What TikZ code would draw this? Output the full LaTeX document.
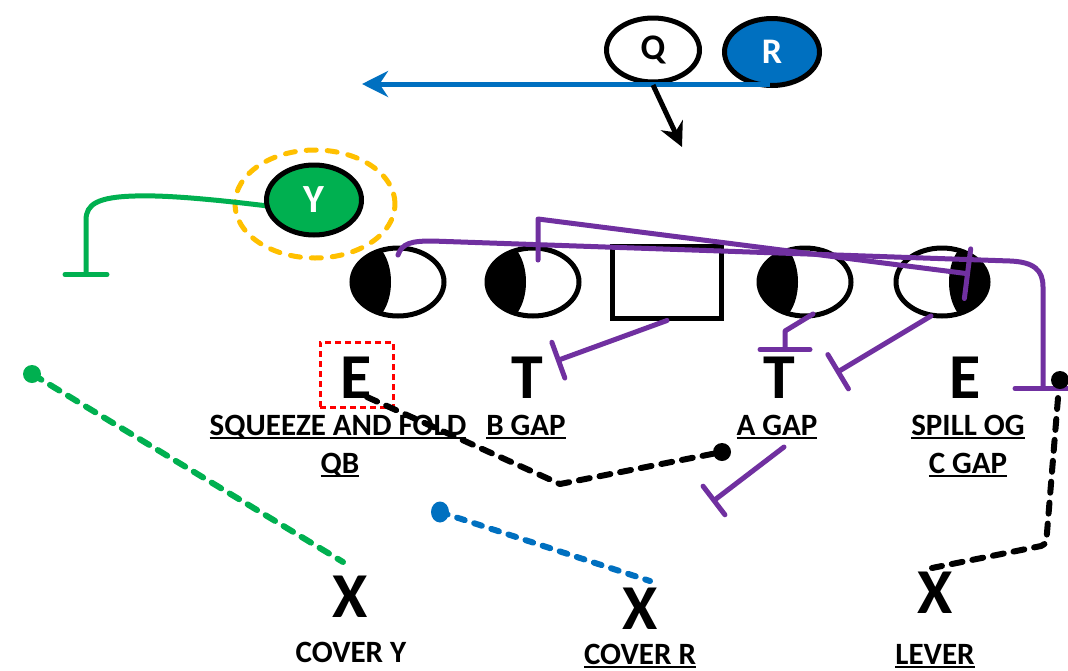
\documentclass[tikz,border=0pt]{standalone}
\usepackage{fontspec}
\setmainfont{Carlito}
\usetikzlibrary{shapes.geometric,arrows.meta,calc}
\definecolor{playpurple}{HTML}{7030A0}
\definecolor{playgreen}{HTML}{00B050}
\definecolor{playblue}{HTML}{0070C0}
\definecolor{playyellow}{HTML}{FFC000}
\newcommand\ulined[1]{\setbox0=\hbox{#1}\rlap{\rule[-4pt]{\wd0}{2.4pt}}\box0}
\begin{document}
\begin{tikzpicture}[x=1pt,y=-1pt,
  lineman/.style={ellipse, draw, line width=5pt, fill=white, minimum width=92pt, minimum height=68pt, inner sep=0pt},
  centerbox/.style={rectangle, draw, line width=5pt, fill=white, minimum width=109pt, minimum height=72pt, inner sep=0pt},
  player/.style={ellipse, draw, line width=5pt, inner sep=0pt, font=\bfseries\fontsize{36}{36}\selectfont},
  bigletter/.style={font=\bfseries\fontsize{64}{64}\selectfont, anchor=base, inner sep=0pt},
  tag/.style={font=\bfseries\fontsize{31}{31}\selectfont, anchor=base, inner sep=0pt},
  block/.style={draw=playpurple, line width=5pt, line cap=round, line join=round},
  route/.style={line width=6pt, line cap=round, line join=round, dash pattern=on 11pt off 10pt},
  dot/.style={circle, inner sep=0pt, minimum size=18pt}]
\useasboundingbox (0,0) rectangle (1068,670);
\fill[white] (0,0) rectangle (1068,670);

% backfield
\node[player, fill=white, minimum width=93pt, minimum height=64pt] (q) at (653,50) {Q};
\node[player, fill=playblue, text=white, minimum width=95pt, minimum height=67pt] (r) at (772,52) {R};
\draw[playblue, line width=5pt, -{Stealth[length=26pt,width=26pt]}] ($(r.center)+(-2,32)$) -- (362,84);
\draw[line width=5pt, -{Stealth[length=24pt,width=24pt]}] ($(q.center)+(0,35)$) -- (682,147);

% Y and its read ring
\node[ellipse, draw=playyellow, line width=5pt, line cap=round, dash pattern=on 10pt off 11pt, minimum width=160pt, minimum height=108pt] (ring) at (315,204) {};
\draw[playgreen, line width=5pt, line cap=round, -{Bar[width=42pt,round]}]
  ($(ring.center)+(-47,2)$) .. controls (210,199) and (165,195) .. (135,196)
  .. controls (98,197) and (86,204) .. (86,220) -- (86,277);
\node[player, fill=playgreen, text=white, minimum width=95pt, minimum height=70pt, font=\bfseries\fontsize{40}{40}\selectfont] (y) at (314,200) {Y};

% offensive line
\node[lineman] (l1) at (398,282) {};
\node[lineman] (l2) at (533,282) {};
\node[centerbox] (sq) at (667,282) {};
\node[lineman] (l4) at (805,282) {};
\node[lineman] (l5) at (942,282) {};
\foreach \n/\dx in {l1/-31, l2/-31, l4/-31, l5/31}{
  \begin{scope}
    \clip (\n.center) ellipse[x radius=46, y radius=34];
    \fill (\n.center) ++(\dx,0) ellipse[x radius=24, y radius=40];
  \end{scope}
}

% defensive front
\node[bigletter] (e1) at (356,398) {E};
\node[draw=red, line width=3pt, dash pattern=on 6pt off 4pt, minimum width=73pt, minimum height=65pt, inner sep=0pt] (e1box) at (356.5,374.5) {};
\node[bigletter] (t1) at (527,398) {T};
\node[bigletter] (t2) at (779,398) {T};
\node[bigletter] (e2) at (965,398) {E};

\node[tag] (squeeze) at (338,435) {\ulined{SQUEEZE AND FOLD}};
\node[tag] (qb) at (340,473) {\ulined{QB}};
\node[tag] (bgap) at (526,435) {\ulined{B GAP}};
\node[tag] (agap) at (777,435) {\ulined{A GAP}};
\node[tag] (spill) at (968,435) {\ulined{SPILL OG}};
\node[tag] (cgap) at (968,473) {\ulined{C GAP}};

% second level
\node[bigletter] (x1) at (350,617) {X};
\node[bigletter] (x2) at (640,629) {X};
\node[bigletter] (x3) at (935,613) {X};
\node[tag] (covy) at (351,662) {COVER Y};
\node[tag] (covr) at (640,664) {\ulined{COVER R}};
\node[tag] (lever) at (935,664) {\ulined{LEVER}};

% blocking assignments
\draw[block, -{Bar[width=56pt,round]}]
  ($(l1.center)+(0,-27)$) .. controls (402,243) and (412,241) .. (432,241)
  -- (1010,261) .. controls (1034,262) and (1043,270) .. (1043,287) -- (1043,391);
\draw[block, -{Bar[width=50pt,round]}] ($(l2.center)+(5,-22)$) -- (538,219) -- (970,274);
\draw[block, -{Bar[width=38pt,round]}] (sq.south) -- (556,361);
\draw[block, -{Bar[width=50pt,round]}] ($(l4.center)+(8,32)$) -- (785,331) -- (785,352);
\draw[block, -{Bar[width=40pt,round]}] ($(l5.center)+(-11,34)$) -- (836,373);
\draw[block, -{Bar[width=36pt,round]}] ($(agap.base)+(7,12)$) -- (712,502);

% defender paths
\node[dot, fill=black] (kdot) at (722,452) {};
\draw[route] ($(e1.base)+(11,-1)$) -- (560,484) -- (kdot.center);
\node[dot, fill=playgreen] (gdot) at (32,374) {};
\draw[route, playgreen] (gdot.center) -- ($(x1.base)+(-7,-55)$);
\node[ellipse, inner sep=0pt, minimum width=18pt, minimum height=21pt, fill=playblue] (bdot) at (440,512) {};
\draw[route, playblue, dash pattern=on 8pt off 10pt] (bdot.center) -- ($(x2.base)+(10,-48)$);
\node[dot, fill=black] (rdot) at (1060,380) {};
\draw[route, rounded corners=5pt] ($(rdot.center)+(-2,18)$) -- (1046,545) -- ($(x3.base)+(-3,-45)$);
\end{tikzpicture}
\end{document}
